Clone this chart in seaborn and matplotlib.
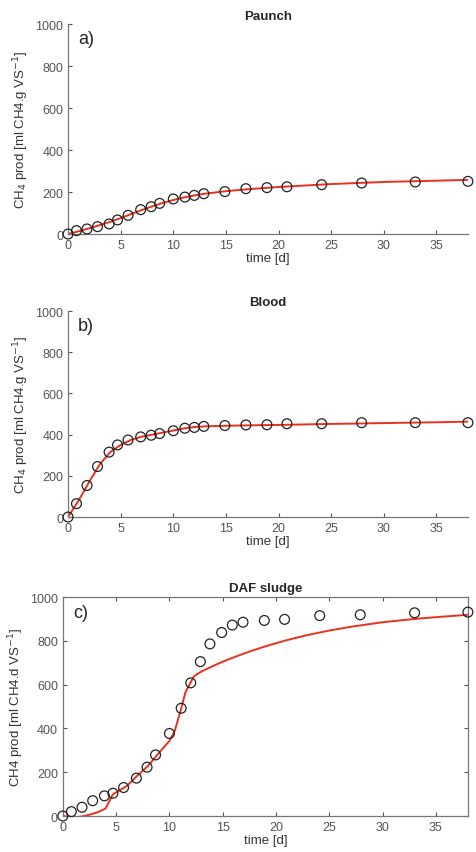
import numpy as np
import pandas as pd
import seaborn as sns
import matplotlib.pyplot as plt

# -----------------------------------
# DATA
# -----------------------------------

t_meas = [0, 0.8, 1.8, 2.8, 3.9, 4.7, 5.7, 6.9, 7.9, 8.7, 10, 11.1, 12, 12.9,
          14.9, 16.9, 18.9, 20.8, 24.1, 27.9, 33, 38]
paunch_meas = [0, 16, 24, 35, 48, 67, 89, 116, 130, 146, 167, 176, 184, 192,
               202, 216, 221, 225, 235, 243, 248, 251]
blood_meas = [0, 65, 153, 245, 315, 350, 374, 389, 397, 405, 419, 431, 435, 440,
              444, 447, 448, 453, 453, 458, 458, 458]

t_meas_daf = [0, 0.8, 1.8, 2.8, 3.9, 4.7, 5.7, 6.9, 7.9, 8.7, 10, 11.1, 12, 12.9,
              13.8, 14.9, 15.9, 16.9, 18.9, 20.8, 24.1, 27.9, 33, 38]
daf_meas = [0, 20, 40, 70, 92, 104, 130, 173, 223, 279, 377, 492, 608, 705,
            786, 838, 872, 885, 893, 898, 915, 919, 928, 931]

t_model = [0, 1, 2, 3, 4, 5, 6, 7, 8, 9, 10, 11, 12, 13, 15, 17, 20, 25, 30, 35, 38]
paunch_model = [0, 13, 27, 42, 58, 76, 95, 114, 132, 148, 162, 174, 184, 192,
                204, 213, 224, 238, 248, 254, 258]
blood_model = [0, 80, 170, 255, 315, 350, 375, 390, 400, 410, 420, 430, 437, 440,
               443, 445, 447, 452, 456, 460, 463]

t_model_daf = [0, 0.5, 1, 1.5, 2, 2.5, 3, 3.5, 4, 4.7, 6, 7, 8, 9, 10, 10.5,
               11, 11.5, 12, 12.3, 13, 14, 15, 16, 17, 18, 19, 20, 21, 22, 23,
               25, 27, 30, 33, 35, 38]
daf_model = [0, -3, -5, -4, 0, 6, 13, 22, 34, 99, 137, 185, 229, 287, 343, 389,
             473, 565, 611, 638, 660, 683, 705, 724, 742, 759, 775, 789, 803,
             815, 827, 847, 864, 885, 900, 908, 919]

# -----------------------------------
# STYLE
# -----------------------------------

sns.set_style("ticks")
plt.rcParams["font.family"] = ["Liberation Sans", "DejaVu Sans"]
plt.rcParams["xtick.direction"] = "in"
plt.rcParams["ytick.direction"] = "in"

tick_col = "#555555"
red = "#e8321e"

fig = plt.figure(figsize=(4.76, 8.53), dpi=100)
ax_a = fig.add_axes([0.143, 0.7245, 0.840, 0.246])
ax_b = fig.add_axes([0.143, 0.3927, 0.840, 0.2415])
ax_c = fig.add_axes([0.132, 0.0422, 0.851, 0.2567])

panels = [
    (ax_a, "Paunch", "a)", t_meas, paunch_meas, t_model, paunch_model,
     "CH$_4$ prod [ml CH4.g VS$^{-1}$]", False),
    (ax_b, "Blood", "b)", t_meas, blood_meas, t_model, blood_model,
     "CH$_4$ prod [ml CH4.g VS$^{-1}$]", False),
    (ax_c, "DAF sludge", "c)", t_meas_daf, daf_meas, t_model_daf, daf_model,
     "CH4 prod [ml CH4.d VS$^{-1}$]", True),
]

for ax, title, tag, tm, ym, tmod, ymod, ylab, boxed in panels:
    sns.lineplot(x=tmod, y=ymod, ax=ax, color=red, linewidth=1.4, zorder=2)
    sns.scatterplot(x=tm, y=ym, ax=ax, marker="o", s=50, facecolor="none",
                    edgecolor="#222222", linewidth=0.9, zorder=3, clip_on=False)

    ax.set_xlim(0, 38)
    ax.set_ylim(0, 1000)
    ax.set_xticks(range(0, 40, 5))
    ax.set_yticks(range(0, 1001, 200))
    ax.tick_params(labelsize=9, colors=tick_col, length=3, width=0.8)
    ax.set_xlabel("time [d]", fontsize=9.5, color="#333333", labelpad=1)
    ax.set_ylabel(ylab, fontsize=9.5, color="#333333", labelpad=3)
    ax.set_title(title, fontsize=9.5, fontweight="bold", pad=4)
    ax.text(0.025, 0.97, tag, transform=ax.transAxes, fontsize=13,
            va="top", ha="left")

    for side in ["left", "bottom", "top", "right"]:
        ax.spines[side].set_color("#777777")
        ax.spines[side].set_linewidth(0.9)
    if boxed:
        ax.tick_params(top=True, right=True)
    else:
        sns.despine(ax=ax)

plt.savefig("out.png", dpi=100)
